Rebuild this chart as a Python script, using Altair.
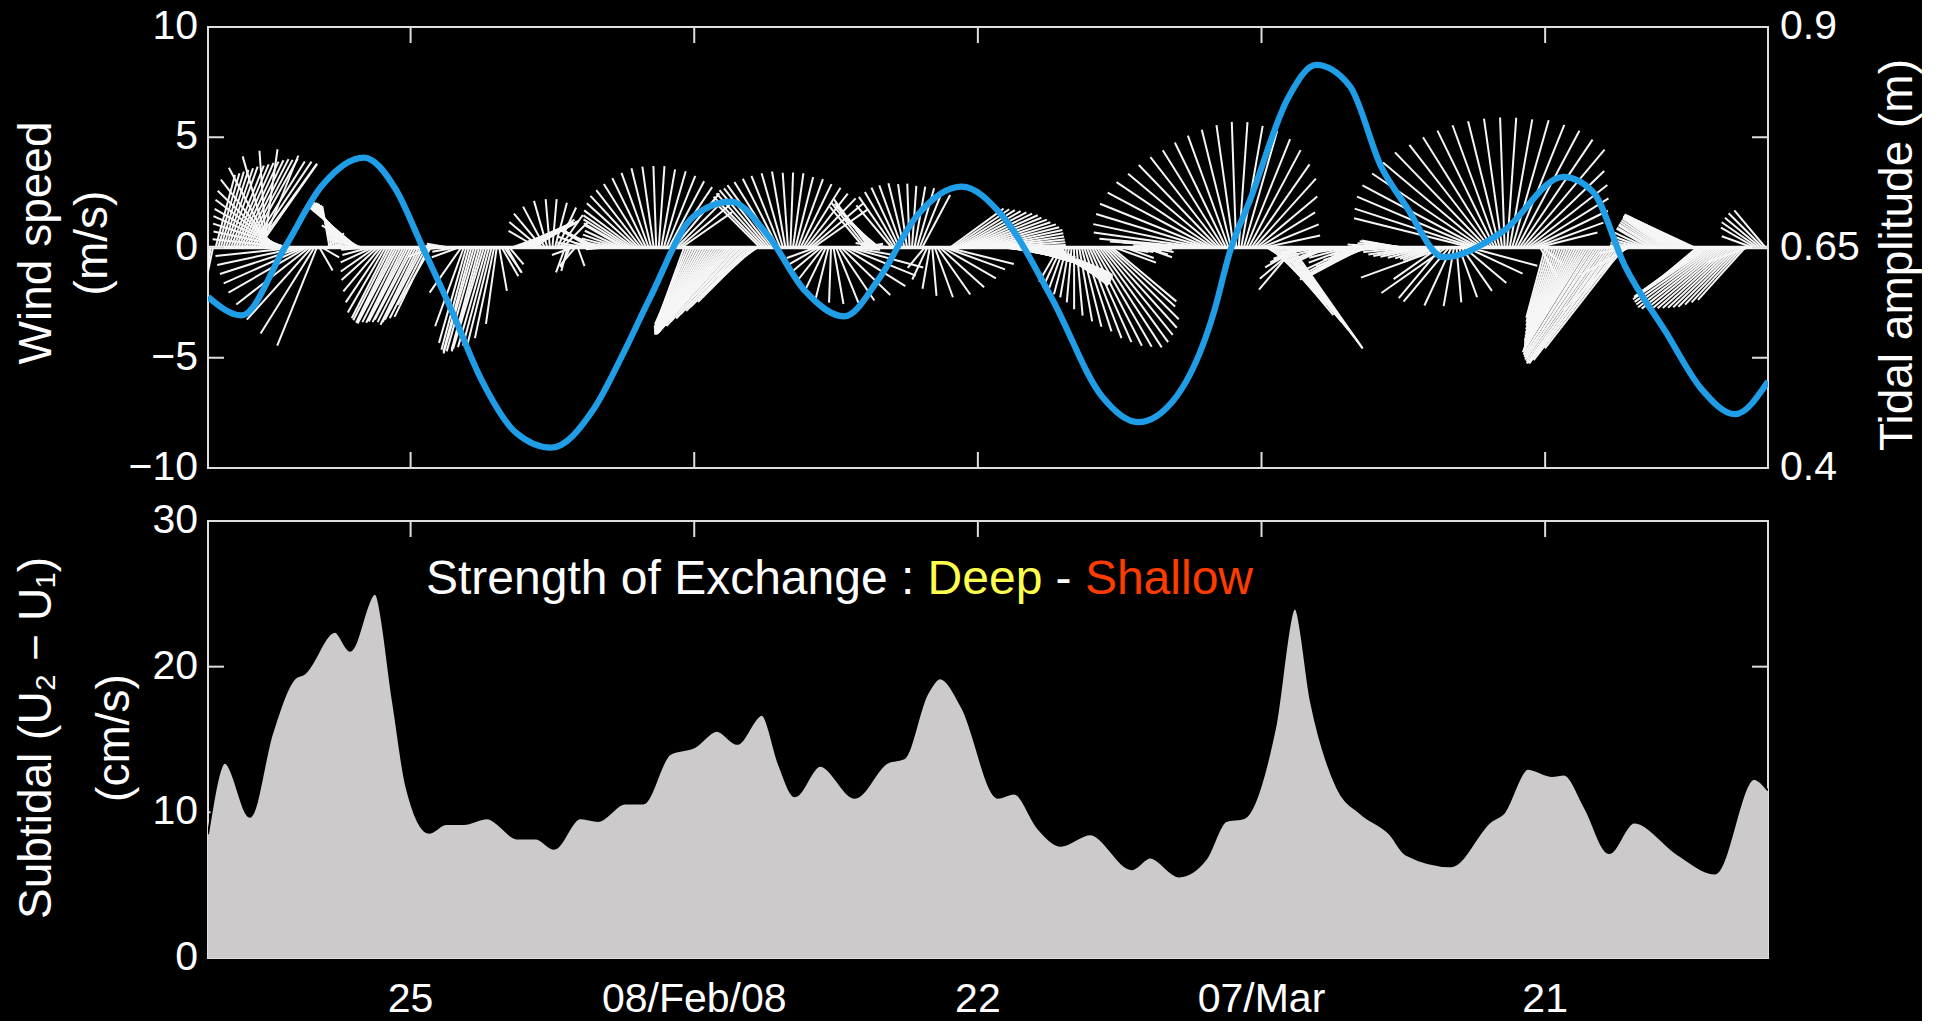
import altair as alt
import numpy as np
import pandas as pd

FONT = "Liberation Sans"
INK = "#ffffff"
FRAME = "#dedede"

# Time axis: days counted from 15 Jan 2008 00:00
DAYS = 77
x_tick_days = [10, 24, 38, 52, 66]
x_tick_labels = ["25", "08/Feb/08", "22", "07/Mar", "21"]

wind_tick_values = [-10, -5, 0, 5, 10]
wind_tick_labels = ["\u221210", "\u22125", "0", "5", "10"]
wind_inner_ticks = [-5, 0, 5]
tide_tick_values = [0.4, 0.65, 0.9]
tide_tick_labels = ["0.4", "0.65", "0.9"]
subtidal_tick_values = [0, 10, 20, 30]
subtidal_tick_labels = ["0", "10", "20", "30"]
subtidal_inner_ticks = [10, 20]

# Tidal amplitude (m)
tide_day = [0.0, 1.65, 3.79, 5.62, 7.7, 9.29, 10.5, 12.0, 13.5, 15.2,
            16.93, 19.07, 20.5, 21.8, 23.96, 25.8, 27.63, 29.46, 31.4, 33.13,
            34.96, 37.2, 39.24, 41.66, 44.13, 45.9, 47.8, 49.63, 50.44, 51.47,
            53.3, 54.7, 56.36, 57.9, 59.13, 61.0, 63.9, 66.9, 68.36, 69.94,
            71.96, 73.7, 75.37, 77.0]
tide_amp = [0.594, 0.573, 0.650, 0.720, 0.752, 0.715, 0.655, 0.580, 0.500, 0.440,
            0.423, 0.468, 0.530, 0.592, 0.685, 0.702, 0.664, 0.601, 0.572, 0.615,
            0.685, 0.719, 0.685, 0.592, 0.481, 0.452, 0.481, 0.575, 0.645, 0.706,
            0.819, 0.857, 0.833, 0.742, 0.697, 0.639, 0.668, 0.730, 0.713, 0.629,
            0.554, 0.490, 0.461, 0.498]

# Subtidal exchange U2 - U1 (cm/s)
subtidal_day = [0.0, 0.84, 2.07, 3.16, 4.29, 4.74, 6.27, 7.01, 8.24, 9.13,
                9.77, 10.91, 11.75, 12.64, 13.77, 15.30, 16.19, 17.08, 18.36, 19.25,
                20.58, 21.47, 22.80, 24.04, 25.12, 26.11, 27.34, 28.18, 28.97, 30.21,
                31.93, 33.51, 34.35, 35.49, 36.13, 37.22, 38.99, 39.78, 40.97, 42.10,
                43.53, 45.61, 46.50, 47.93, 49.26, 50.25, 51.14, 52.67, 53.65, 54.44,
                55.73, 56.91, 58.34, 59.13, 61.35, 63.33, 63.92, 65.15, 66.34, 66.93,
                67.97, 69.15, 70.38, 72.56, 74.38, 76.31, 77.0]
subtidal_val = [8.5, 13.4, 9.7, 15.4, 19.2, 19.5, 22.4, 21.1, 25.0, 17.6,
                11.9, 8.6, 9.2, 9.2, 9.6, 8.2, 8.2, 7.5, 9.6, 9.4,
                10.6, 10.6, 14.0, 14.5, 15.6, 14.7, 16.7, 13.3, 11.1, 13.2,
                11.0, 13.4, 13.7, 18.1, 19.2, 17.2, 11.0, 11.3, 8.9, 7.7,
                8.5, 6.1, 6.9, 5.6, 6.8, 9.4, 9.6, 15.8, 24.0, 17.6,
                11.7, 9.9, 8.5, 7.1, 6.3, 9.4, 9.9, 13.0, 12.5, 12.6,
                10.3, 7.2, 9.3, 7.1, 5.8, 12.3, 11.5]

# 3-hourly wind record from 15 Jan 00:00, one row per day.
# Direction the stick points (deg, counter-clockwise from east)
wind_dir = [
    265, 262, 258, 75, 74, 73, 72, 71,
    70, 68, 67, 66, 65, 64, 63, 62,
    61, 58, 56, 54, 55, 68, 82, 94,
    106, 118, 128, 136, 143, 150, 156, 162,
    168, 174, 180, 186, 192, 198, 204, 210,
    218, 228, 238, 248, 300, 330, 10, 40,
    100, 105, 110, 114, 118, 122, 125, 128,
    131, 134, 137, 140, 150, 165, 178, 185,
    195, 205, 215, 222, 230, 236, 240, 243,
    243, 244, 243, 242, 243, 244, 243, 242,
    243, 242, 243, 244, 243, 242, 243, 244,
    240, 200, 180, 175, 180, 185, 175, 170,
    175, 180, 190, 200, 235, 250, 254, 255,
    255, 254, 254, 255, 254, 253, 254, 255,
    256, 258, 262, 280, 300, 305, 300, 310,
    20, 22, 24, 25, 26, 26, 27, 28,
    30, 35, 150, 140, 130, 118, 106, 95,
    85, 75, 65, 55, 45, 250, 255, 245,
    200, 230, 290, 180, 175, 170, 160, 150,
    150, 152, 155, 170, 180, 185, 180, 175,
    170, 165, 160, 155, 150, 150, 148, 146,
    143, 138, 133, 128, 122, 116, 110, 104,
    98, 92, 86, 80, 74, 68, 62, 56,
    50, 45, 40, 35, 250, 248, 246, 245,
    244, 243, 242, 241, 240, 239, 238, 237,
    236, 235, 234, 233, 232, 231, 230, 229,
    228, 228, 227, 227, 226, 226, 225, 225,
    222, 215, 135, 134, 132, 130, 128, 126,
    122, 117, 112, 106, 100, 94, 88, 82,
    76, 70, 64, 58, 52, 46, 40, 35,
    200, 210, 220, 232, 244, 256, 268, 280,
    292, 304, 316, 328, 338, 345, 350, 355,
    0, 5, 10, 130, 128, 126, 130, 132,
    135, 140, 170, 180, 175, 170, 130, 125,
    120, 115, 110, 104, 98, 92, 86, 80,
    74, 68, 62, 230, 245, 260, 275, 290,
    305, 318, 330, 340, 346, 36, 34, 32,
    30, 28, 26, 24, 22, 20, 18, 16,
    14, 12, 10, 8, 6, 4, 2, 0,
    358, 356, 354, 352, 350, 349, 348, 347,
    346, 345, 344, 343, 342, 341, 340, 339,
    338, 336, 334, 332, 330, 328, 326, 324,
    240, 245, 250, 255, 260, 265, 270, 275,
    280, 284, 288, 291, 294, 297, 300, 303,
    306, 309, 312, 315, 318, 320, 340, 355,
    0, 350, 340, 350, 0, 10, 5, 355,
    350, 345, 340, 350, 355, 0, 180, 185,
    190, 185, 180, 175, 180, 185, 190, 180,
    175, 178, 180, 180, 178, 176, 176, 175,
    172, 168, 163, 158, 152, 146, 140, 134,
    128, 122, 116, 110, 104, 98, 92, 86,
    80, 74, 68, 62, 55, 48, 40, 32,
    22, 12, 330, 320, 315, 312, 310, 310,
    309, 308, 307, 306, 305, 230, 220, 210,
    205, 200, 195, 190, 185, 180, 185, 190,
    195, 200, 205, 200, 195, 190, 185, 180,
    185, 190, 195, 200, 205, 207, 208, 208,
    208, 205, 200, 195, 190, 185, 180, 175,
    175, 180, 185, 180, 175, 170, 170, 170,
    172, 175, 178, 180, 182, 185, 188, 190,
    192, 195, 198, 200, 202, 204, 215, 230,
    200, 215, 230, 245, 260, 275, 290, 305,
    320, 335, 345, 166, 162, 157, 152, 146,
    140, 134, 128, 122, 116, 110, 104, 98,
    92, 86, 80, 74, 68, 62, 56, 50,
    44, 38, 32, 26, 20, 14, 300, 320,
    255, 254, 253, 252, 251, 250, 249, 248,
    247, 246, 245, 244, 243, 242, 241, 240,
    239, 238, 238, 237, 237, 236, 236, 235,
    235, 235, 234, 234, 233, 233, 232, 232,
    225, 210, 190, 180, 175, 170, 165, 160,
    155, 150, 150, 148, 148, 147, 146, 145,
    145, 146, 147, 148, 149, 150, 150, 151,
    152, 153, 154, 155, 220, 218, 216, 215,
    214, 214, 215, 216, 217, 218, 219, 220,
    221, 222, 223, 224, 225, 226, 227, 228,
    200, 180, 160, 150, 145, 140, 135, 130,
]
# Wind speed (m/s)
wind_spd = [
    3.2, 3.4, 3.0, 3.4, 3.5, 3.6, 3.7, 3.8,
    3.9, 4.0, 4.1, 4.2, 4.3, 4.4, 4.5, 4.5,
    4.6, 4.6, 4.7, 4.7, 4.6, 4.5, 4.5, 4.4,
    4.3, 4.1, 3.9, 3.7, 3.6, 3.5, 3.5, 3.5,
    3.5, 3.6, 3.6, 3.7, 3.8, 3.9, 4.0, 4.1,
    4.2, 4.4, 4.6, 4.8, 1.2, 0.9, 0.8, 1.0,
    1.9, 2.0, 2.1, 2.2, 2.3, 2.4, 2.5, 2.6,
    2.7, 2.8, 2.8, 2.9, 2.0, 1.5, 1.3, 1.2,
    1.3, 1.6, 1.9, 2.2, 2.6, 3.0, 3.4, 3.6,
    3.7, 3.8, 3.8, 3.9, 3.8, 3.8, 3.7, 3.8,
    3.8, 3.7, 3.8, 3.9, 3.8, 3.7, 3.6, 3.5,
    3.0, 1.2, 1.0, 0.9, 0.8, 0.8, 0.9, 1.0,
    1.0, 1.0, 1.1, 1.3, 2.5, 3.8, 4.5, 4.8,
    4.9, 5.0, 4.9, 4.8, 4.9, 4.8, 4.7, 4.6,
    4.5, 4.2, 3.5, 2.0, 1.5, 1.4, 1.3, 1.0,
    2.0, 2.2, 2.4, 2.5, 2.6, 2.6, 2.6, 2.5,
    2.4, 2.2, 1.5, 1.8, 2.0, 2.1, 2.2, 2.2,
    2.2, 2.1, 2.0, 1.8, 1.6, 1.2, 1.1, 1.0,
    1.0, 1.1, 0.9, 1.0, 1.2, 1.3, 1.5, 1.6,
    1.7, 1.7, 1.6, 1.2, 1.0, 0.9, 1.0, 1.2,
    1.5, 1.6, 1.7, 1.8, 2.0, 2.2, 2.4, 2.6,
    2.8, 3.0, 3.2, 3.3, 3.4, 3.5, 3.6, 3.7,
    3.7, 3.7, 3.7, 3.6, 3.6, 3.5, 3.4, 3.3,
    3.2, 3.1, 3.0, 2.8, 3.0, 3.4, 3.8, 4.0,
    4.1, 4.2, 4.3, 4.4, 4.5, 4.6, 4.6, 4.7,
    4.7, 4.8, 4.8, 4.9, 4.9, 5.0, 5.0, 5.0,
    4.9, 4.8, 4.6, 4.4, 4.2, 4.0, 3.8, 3.5,
    3.0, 2.2, 3.0, 3.2, 3.3, 3.4, 3.4, 3.5,
    3.5, 3.5, 3.5, 3.5, 3.5, 3.4, 3.4, 3.4,
    3.3, 3.3, 3.2, 3.2, 3.1, 3.1, 3.1, 3.0,
    1.4, 1.6, 1.8, 2.0, 2.2, 2.4, 2.5, 2.6,
    2.7, 2.9, 3.1, 3.3, 3.4, 3.5, 2.0, 1.2,
    1.0, 1.0, 1.0, 2.4, 2.6, 2.7, 2.6, 2.5,
    2.3, 2.0, 1.2, 1.0, 1.0, 1.2, 2.5, 2.8,
    2.9, 3.0, 3.0, 3.0, 2.9, 2.9, 2.8, 2.8,
    2.8, 2.7, 2.7, 1.2, 1.6, 1.9, 2.2, 2.4,
    2.6, 2.7, 2.8, 2.9, 3.1, 3.0, 3.1, 3.2,
    3.3, 3.4, 3.5, 3.6, 3.6, 3.7, 3.7, 3.8,
    3.8, 3.8, 3.7, 3.6, 3.5, 3.4, 3.3, 3.2,
    3.0, 3.0, 3.1, 3.2, 3.3, 3.4, 3.5, 3.6,
    3.7, 3.8, 3.9, 4.0, 4.0, 3.9, 3.8, 3.7,
    3.6, 3.5, 3.4, 3.3, 3.2, 3.1, 3.0, 2.9,
    1.8, 2.0, 2.1, 2.2, 2.3, 2.5, 2.8, 3.1,
    3.4, 3.7, 4.0, 4.4, 4.7, 5.0, 5.2, 5.4,
    5.3, 5.1, 4.9, 4.6, 4.0, 3.8, 2.0, 1.2,
    1.0, 1.2, 1.4, 1.2, 1.0, 0.8, 0.8, 0.9,
    1.0, 1.2, 1.3, 1.2, 1.0, 0.8, 0.6, 0.7,
    0.8, 1.0, 1.1, 1.0, 0.9, 0.8, 0.8, 0.9,
    1.0, 1.2, 1.5, 2.0, 2.6, 3.2, 3.9, 4.5,
    4.9, 5.1, 5.2, 5.3, 5.3, 5.3, 5.2, 5.2,
    5.2, 5.2, 5.3, 5.4, 5.5, 5.6, 5.7, 5.7,
    5.6, 5.5, 5.3, 5.0, 4.6, 4.2, 3.6, 3.0,
    2.8, 2.6, 2.0, 2.5, 3.0, 3.5, 4.0, 4.4,
    4.8, 5.1, 5.4, 5.6, 5.6, 2.5, 2.2, 1.8,
    1.6, 1.5, 1.4, 1.3, 1.2, 1.2, 1.3, 1.4,
    1.5, 1.6, 1.6, 1.5, 1.4, 1.3, 1.2, 1.2,
    1.4, 1.6, 1.8, 2.0, 2.3, 2.6, 2.9, 3.1,
    3.0, 2.8, 2.5, 2.2, 2.0, 1.8, 1.6, 1.5,
    1.4, 1.3, 1.2, 1.2, 1.3, 1.4, 1.6, 1.8,
    2.0, 2.2, 2.4, 2.5, 2.5, 2.4, 2.3, 2.2,
    2.0, 1.8, 1.6, 1.5, 1.5, 1.6, 2.5, 3.0,
    4.0, 3.6, 3.2, 2.9, 2.7, 2.5, 2.4, 2.4,
    2.5, 2.8, 3.2, 5.5, 5.7, 5.9, 6.0, 6.0,
    6.0, 6.0, 5.9, 5.9, 5.9, 5.9, 5.9, 5.9,
    5.9, 5.9, 5.9, 6.0, 6.0, 6.0, 5.9, 5.8,
    5.0, 4.6, 4.2, 3.8, 3.3, 2.8, 1.5, 1.2,
    3.3, 3.5, 3.7, 3.9, 4.1, 4.3, 4.5, 4.6,
    4.7, 4.8, 4.9, 5.0, 5.1, 5.2, 5.3, 5.4,
    5.5, 5.6, 5.7, 5.8, 5.9, 6.0, 6.1, 6.2,
    6.3, 6.4, 6.5, 6.5, 6.5, 6.4, 6.2, 5.8,
    4.0, 2.5, 1.5, 1.2, 1.2, 1.3, 1.4, 1.5,
    1.6, 1.7, 1.8, 1.9, 2.0, 2.1, 2.2, 2.3,
    2.4, 2.5, 2.6, 2.7, 2.8, 2.9, 3.0, 3.0,
    3.0, 3.0, 2.9, 2.8, 2.8, 3.2, 3.5, 3.8,
    4.0, 4.2, 4.3, 4.4, 4.5, 4.5, 4.4, 4.3,
    4.2, 4.1, 4.0, 3.9, 3.8, 3.6, 3.4, 3.2,
    2.0, 1.5, 1.5, 1.8, 2.0, 2.1, 2.2, 2.2,
]

annot_parts = ["Strength of Exchange :", "Deep", "-", "Shallow"]
annot_colors = [INK, "#ffff4d", INK, "#ff3c00"]

# ---- layout (pixels) ----
W = 1560
H_TOP = 441
H_BOT = 437
GAP = 10          # space between the two label boxes; plot frames end up 51 px apart
TICK = 16
LABEL_SIZE = 41
TITLE_SIZE = 46
ANNOT_SIZE = 48
TITLE_X = -193

# The tidal amplitude shares the wind panel: 0.4..0.9 m spans -10..10 m/s
TIDE_MID, TIDE_PER_UNIT = 0.65, 0.025

# stick length along x in days per m/s, so sticks keep their true heading on screen
stick_k = (DAYS / W) * (H_TOP / 20.0)

wind = pd.DataFrame({"dir": wind_dir, "spd": wind_spd})
wind["day"] = np.arange(len(wind)) * 0.125
rad = np.deg2rad(wind["dir"].astype(float))
wind["v"] = wind["spd"] * np.sin(rad)
wind["tip_day"] = wind["day"] + wind["spd"] * np.cos(rad) * stick_k
wind["zero"] = 0.0

tide = pd.DataFrame({"day": tide_day, "amp": tide_amp})
sub = pd.DataFrame({"day": subtidal_day, "val": subtidal_val})

XS = alt.Scale(domain=[0, DAYS], nice=False, zero=False)
YW = alt.Scale(domain=[-10, 10], nice=False, zero=False)
YS = alt.Scale(domain=[0, 30], nice=False, zero=False)

tide_to_panel = "(datum.amp - {}) / {}".format(TIDE_MID, TIDE_PER_UNIT)

x_ticks_df = pd.DataFrame({"day": x_tick_days, "label": x_tick_labels})


def edge_ticks(height):
    top = alt.Chart(x_ticks_df).mark_rule(color=FRAME, strokeWidth=2).encode(
        x=alt.X("day:Q", scale=XS, axis=None), y=alt.value(0), y2=alt.value(TICK))
    bottom = alt.Chart(x_ticks_df).mark_rule(color=FRAME, strokeWidth=2).encode(
        x=alt.X("day:Q", scale=XS, axis=None), y=alt.value(height), y2=alt.value(height - TICK))
    return top, bottom


def side_ticks(values, scale):
    df = pd.DataFrame({"v": values})
    left = alt.Chart(df).mark_rule(color=FRAME, strokeWidth=2).encode(
        y=alt.Y("v:Q", scale=scale, axis=None), x=alt.value(0), x2=alt.value(TICK))
    right = alt.Chart(df).mark_rule(color=FRAME, strokeWidth=2).encode(
        y=alt.Y("v:Q", scale=scale, axis=None), x=alt.value(W), x2=alt.value(W - TICK))
    return left, right


def left_labels(values, labels, scale):
    df = pd.DataFrame({"v": values, "label": labels})
    return alt.Chart(df).mark_text(
        align="right", baseline="middle", fontSize=LABEL_SIZE, color=INK, font=FONT
    ).encode(y=alt.Y("v:Q", scale=scale, axis=None), x=alt.value(-10), text="label:N")


def side_title(text, x, y):
    return alt.Chart(pd.DataFrame({"t": [text]})).mark_text(
        angle=270, align="center", baseline="top", fontSize=TITLE_SIZE, color=INK, font=FONT
    ).encode(text="t:N", x=alt.value(x), y=alt.value(y))


# ---------------- top panel: wind sticks + tidal amplitude ----------------
sticks = alt.Chart(wind).mark_rule(color="#f6f6f6", strokeWidth=2.0, clip=True).encode(
    x=alt.X("tip_day:Q", scale=XS, axis=None),
    x2="day:Q",
    y=alt.Y("v:Q", scale=YW, axis=None),
    y2="zero:Q",
)

zero_line = alt.Chart(pd.DataFrame({"v": [0.0]})).mark_rule(color="#f6f6f6", strokeWidth=3.5).encode(
    y=alt.Y("v:Q", scale=YW, axis=None))

tt, tb = edge_ticks(H_TOP)
tl, tr = side_ticks(wind_inner_ticks, YW)

tide_line = alt.Chart(tide).transform_calculate(panel_y=tide_to_panel).mark_line(
    color="#1f9de6", strokeWidth=6.2, interpolate="monotone", clip=True
).encode(
    x=alt.X("day:Q", scale=XS, axis=None),
    y=alt.Y("panel_y:Q", scale=YW, axis=None),
)

tide_labels = alt.Chart(pd.DataFrame({"amp": tide_tick_values, "label": tide_tick_labels})).transform_calculate(
    panel_y=tide_to_panel
).mark_text(align="left", baseline="middle", fontSize=LABEL_SIZE, color=INK, font=FONT).encode(
    y=alt.Y("panel_y:Q", scale=YW, axis=None), x=alt.value(W + 12), text="label:N")

top = alt.layer(
    sticks, zero_line, tt, tb, tl, tr, tide_line, tide_labels,
    left_labels(wind_tick_values, wind_tick_labels, YW),
    side_title("Wind speed", TITLE_X, 216),
    side_title("(m/s)", TITLE_X + 56, 216),
    side_title("Tidal amplitude (m)", W + 108, 228),
).properties(width=W, height=H_TOP)

# ---------------- bottom panel: subtidal exchange ----------------
bt, _ = edge_ticks(H_BOT)
bl, br = side_ticks(subtidal_inner_ticks, YS)

area = alt.Chart(sub).mark_area(color="#cdcacb", interpolate="monotone", clip=True).encode(
    x=alt.X("day:Q", scale=XS, axis=None),
    y=alt.Y("val:Q", scale=YS, axis=None),
)

edge = alt.Chart(sub).mark_line(color="black", strokeWidth=2, interpolate="monotone", clip=True).encode(
    x=alt.X("day:Q", scale=XS, axis=None), y=alt.Y("val:Q", scale=YS, axis=None))

x_labels = alt.Chart(x_ticks_df).mark_text(
    align="center", baseline="top", fontSize=LABEL_SIZE, color=INK, font=FONT
).encode(x=alt.X("day:Q", scale=XS, axis=None), y=alt.value(H_BOT + 22), text="label:N")

# caption placed in data space, pieces offset by their rendered widths
annot_dx = [0.0, 501.6, 629.6, 658.9]
annot_layers = [
    alt.Chart(pd.DataFrame({"day": [10.76], "val": [25.0], "t": [txt]}))
    .mark_text(align="left", baseline="alphabetic", dx=dx, fontSize=ANNOT_SIZE, color=col, font=FONT)
    .encode(x=alt.X("day:Q", scale=XS, axis=None),
            y=alt.Y("val:Q", scale=YS, axis=None), text="t:N")
    for txt, col, dx in zip(annot_parts, annot_colors, annot_dx)
]

bottom = alt.layer(
    bt, bl, br, area, edge, x_labels, *annot_layers,
    left_labels(subtidal_tick_values, subtidal_tick_labels, YS),
    side_title("Subtidal (U\u2082 \u2212 U\u2081)", TITLE_X, 217),
    side_title("(cm/s)", TITLE_X + 78, 217),
).properties(width=W, height=H_BOT)

chart = (
    alt.vconcat(top, bottom, spacing=GAP)
    .properties(padding={"left": 13, "top": 5, "right": 0, "bottom": 0}, background="black")
    .configure(font=FONT)
    .configure_view(stroke=FRAME, strokeWidth=2, fill="black")
)

chart.save("out.html", embed_options={"renderer": "svg", "actions": False})
